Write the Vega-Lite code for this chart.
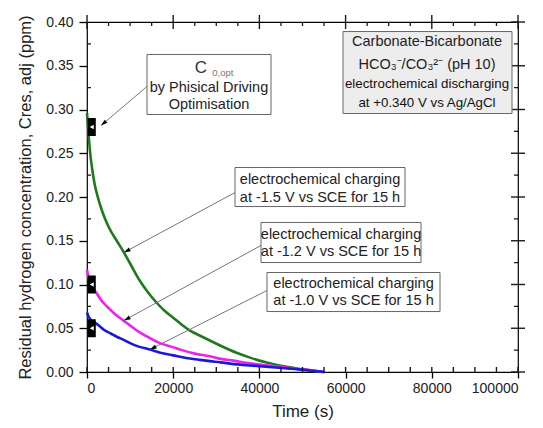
{
  "$schema": "https://vega.github.io/schema/vega-lite/v6.json",
  "width": 431,
  "height": 350,
  "autosize": "none",
  "padding": {"left": 87, "top": 22, "right": 25, "bottom": 56},
  "config": {
    "view": {"stroke": "#000", "strokeWidth": 1.2},
    "font": "Liberation Sans",
    "axis": {"domain": false, "grid": false, "tickColor": "#000", "tickWidth": 1.3, "labelFont": "Liberation Sans", "titleFont": "Liberation Sans", "labelColor": "#222", "titleColor": "#222", "titleFontWeight": "normal"}
  },
  "datasets": {
    "curves": [
      {"s":"-1.5 V","t":0,"c":0.296},{"s":"-1.5 V","t":300,"c":0.276},{"s":"-1.5 V","t":700,"c":0.252},{"s":"-1.5 V","t":1200,"c":0.232},{"s":"-1.5 V","t":1800,"c":0.214},{"s":"-1.5 V","t":2500,"c":0.2},{"s":"-1.5 V","t":3500,"c":0.184},{"s":"-1.5 V","t":5000,"c":0.166},{"s":"-1.5 V","t":6900,"c":0.15},{"s":"-1.5 V","t":8400,"c":0.138},{"s":"-1.5 V","t":10000,"c":0.124},{"s":"-1.5 V","t":12300,"c":0.104},{"s":"-1.5 V","t":14000,"c":0.092},{"s":"-1.5 V","t":16000,"c":0.08},{"s":"-1.5 V","t":18000,"c":0.07},{"s":"-1.5 V","t":20000,"c":0.062},{"s":"-1.5 V","t":22000,"c":0.054},{"s":"-1.5 V","t":24000,"c":0.047},{"s":"-1.5 V","t":26000,"c":0.042},{"s":"-1.5 V","t":28500,"c":0.036},{"s":"-1.5 V","t":31000,"c":0.03},{"s":"-1.5 V","t":34700,"c":0.022},{"s":"-1.5 V","t":37500,"c":0.017},{"s":"-1.5 V","t":40000,"c":0.013},{"s":"-1.5 V","t":42500,"c":0.01},{"s":"-1.5 V","t":45000,"c":0.007},{"s":"-1.5 V","t":47500,"c":0.005},{"s":"-1.5 V","t":50000,"c":0.003},{"s":"-1.5 V","t":52500,"c":0.0013},{"s":"-1.5 V","t":55000,"c":0},
      {"s":"-1.2 V","t":0,"c":0.117},{"s":"-1.2 V","t":300,"c":0.109},{"s":"-1.2 V","t":800,"c":0.101},{"s":"-1.2 V","t":1500,"c":0.095},{"s":"-1.2 V","t":2250,"c":0.09},{"s":"-1.2 V","t":3000,"c":0.084},{"s":"-1.2 V","t":4000,"c":0.078},{"s":"-1.2 V","t":5000,"c":0.073},{"s":"-1.2 V","t":6500,"c":0.066},{"s":"-1.2 V","t":8400,"c":0.059},{"s":"-1.2 V","t":10000,"c":0.053},{"s":"-1.2 V","t":12000,"c":0.046},{"s":"-1.2 V","t":14500,"c":0.039},{"s":"-1.2 V","t":16900,"c":0.033},{"s":"-1.2 V","t":19500,"c":0.029},{"s":"-1.2 V","t":22000,"c":0.025},{"s":"-1.2 V","t":25000,"c":0.021},{"s":"-1.2 V","t":28500,"c":0.018},{"s":"-1.2 V","t":31000,"c":0.015},{"s":"-1.2 V","t":34000,"c":0.013},{"s":"-1.2 V","t":37000,"c":0.0105},{"s":"-1.2 V","t":40000,"c":0.0086},{"s":"-1.2 V","t":43000,"c":0.0068},{"s":"-1.2 V","t":46000,"c":0.005},{"s":"-1.2 V","t":49000,"c":0.0035},{"s":"-1.2 V","t":52000,"c":0.002},{"s":"-1.2 V","t":55000,"c":0},
      {"s":"-1.0 V","t":0,"c":0.068},{"s":"-1.0 V","t":300,"c":0.064},{"s":"-1.0 V","t":800,"c":0.06},{"s":"-1.0 V","t":1500,"c":0.057},{"s":"-1.0 V","t":2250,"c":0.055},{"s":"-1.0 V","t":3000,"c":0.052},{"s":"-1.0 V","t":4000,"c":0.048},{"s":"-1.0 V","t":5500,"c":0.044},{"s":"-1.0 V","t":7000,"c":0.04},{"s":"-1.0 V","t":8400,"c":0.037},{"s":"-1.0 V","t":10000,"c":0.033},{"s":"-1.0 V","t":12000,"c":0.029},{"s":"-1.0 V","t":14600,"c":0.0257},{"s":"-1.0 V","t":17000,"c":0.022},{"s":"-1.0 V","t":20000,"c":0.019},{"s":"-1.0 V","t":23000,"c":0.016},{"s":"-1.0 V","t":26000,"c":0.014},{"s":"-1.0 V","t":28500,"c":0.0124},{"s":"-1.0 V","t":31000,"c":0.011},{"s":"-1.0 V","t":34000,"c":0.009},{"s":"-1.0 V","t":37000,"c":0.0078},{"s":"-1.0 V","t":40000,"c":0.0067},{"s":"-1.0 V","t":43000,"c":0.0055},{"s":"-1.0 V","t":46000,"c":0.0042},{"s":"-1.0 V","t":49000,"c":0.003},{"s":"-1.0 V","t":52000,"c":0.0015},{"s":"-1.0 V","t":55000,"c":0}
    ],
    "markers": [{"t":1100,"c":0.28},{"t":1100,"c":0.1},{"t":1100,"c":0.05}],
    "arrows": [
      {"t1":13921,"c1":0.3263,"t2":3248,"c2":0.2817},
      {"t1":34339,"c1":0.2051,"t2":8585,"c2":0.1366},
      {"t1":40371,"c1":0.1446,"t2":8585,"c2":0.0589},
      {"t1":41763,"c1":0.0931,"t2":14617,"c2":0.0257}
    ],
    "boxes": [
      {"t1":13921,"t2":42691,"c1":0.3629,"c2":0.2943},
      {"t1":34339,"t2":73782,"c1":0.2337,"c2":0.1891},
      {"t1":40371,"t2":77494,"c1":0.1709,"c2":0.1251},
      {"t1":41763,"t2":81903,"c1":0.1137,"c2":0.0691}
    ],
    "graybox": [{"t1":59397,"t2":98608,"c1":0.3891,"c2":0.2954}],
    "texts": [
      {"t":28306,"c":0.3251,"txt":"by Phisical Driving"},
      {"t":28306,"c":0.3046,"txt":"Optimisation"},
      {"t":78886,"c":0.3766,"txt":"Carbonate-Bicarbonate"},
      {"t":78886,"c":0.3514,"txt":"HCO₃⁻/CO₃²⁻ (pH 10)"},
      {"t":54060,"c":0.22,"txt":"electrochemical charging"},
      {"t":54060,"c":0.1994,"txt":"at -1.5 V vs SCE for 15 h"},
      {"t":58933,"c":0.1571,"txt":"electrochemical charging"},
      {"t":58933,"c":0.1366,"txt":"at -1.2 V vs SCE for 15 h"},
      {"t":61833,"c":0.1011,"txt":"electrochemical charging"},
      {"t":61833,"c":0.0806,"txt":"at -1.0 V vs SCE for 15 h"}
    ],
    "smalltexts": [
      {"t":78886,"c":0.3286,"txt":"electrochemical discharging"},
      {"t":78886,"c":0.308,"txt":"at +0.340 V vs Ag/AgCl"}
    ],
    "cmain": [{"t":26450,"c":0.3469,"txt":"C"}],
    "csub": [{"t":31500,"c":0.3412,"txt":"0,opt"}],
    "xticks": [{"v":0,"kind":"major"},{"v":5000,"kind":"minor"},{"v":10000,"kind":"minor"},{"v":15000,"kind":"minor"},{"v":20000,"kind":"major"},{"v":25000,"kind":"minor"},{"v":30000,"kind":"minor"},{"v":35000,"kind":"minor"},{"v":40000,"kind":"major"},{"v":45000,"kind":"minor"},{"v":50000,"kind":"minor"},{"v":55000,"kind":"minor"},{"v":60000,"kind":"major"},{"v":65000,"kind":"minor"},{"v":70000,"kind":"minor"},{"v":75000,"kind":"minor"},{"v":80000,"kind":"major"},{"v":85000,"kind":"minor"},{"v":90000,"kind":"minor"},{"v":95000,"kind":"minor"},{"v":100000,"kind":"major"}],
    "yticks": [{"v":0,"kind":"major"},{"v":0.025,"kind":"minor"},{"v":0.05,"kind":"major"},{"v":0.075,"kind":"minor"},{"v":0.1,"kind":"major"},{"v":0.125,"kind":"minor"},{"v":0.15,"kind":"major"},{"v":0.175,"kind":"minor"},{"v":0.2,"kind":"major"},{"v":0.225,"kind":"minor"},{"v":0.25,"kind":"major"},{"v":0.275,"kind":"minor"},{"v":0.3,"kind":"major"},{"v":0.325,"kind":"minor"},{"v":0.35,"kind":"major"},{"v":0.375,"kind":"minor"},{"v":0.4,"kind":"major"}]
  },
  "layer": [
    {
      "data": {"name": "curves"},
      "mark": {"type": "line", "strokeWidth": 2.6, "interpolate": "monotone"},
      "encoding": {
        "x": {"field": "t", "type": "quantitative", "scale": {"domain": [0, 100000], "nice": false},
          "axis": {"orient": "bottom", "values": [0, 20000, 40000, 60000, 80000, 100000], "tickSize": 6, "labelPadding": 3, "labelFontSize": 14, "title": "Time (s)", "titleFontSize": 17, "titlePadding": 8, "format": "d"}},
        "y": {"field": "c", "type": "quantitative", "scale": {"domain": [0, 0.4], "nice": false},
          "axis": {"orient": "left", "values": [0, 0.05, 0.1, 0.15, 0.2, 0.25, 0.3, 0.35, 0.4], "tickSize": 8, "labelPadding": 6, "labelFontSize": 14, "format": ".2f", "title": "Residual hydrogen concentration, Cres, adj (ppm)", "titleFontSize": 16.5, "titlePadding": 12}},
        "color": {"field": "s", "type": "nominal", "scale": {"domain": ["-1.5 V", "-1.2 V", "-1.0 V"], "range": ["#1f7a1f", "#ee22ee", "#1a1ad6"]}, "legend": null}
      }
    },
    {
      "data": {"name": "xticks"},
      "transform": [{"filter": "datum.kind == 'major'"}],
      "mark": {"type": "rule", "color": "#1a1a1a", "strokeWidth": 1.4, "yOffset": -7, "y2Offset": 7},
      "encoding": {"x": {"field": "v", "type": "quantitative"}, "y": {"datum": 0.4, "type": "quantitative"}, "y2": {"datum": 0.4}}
    },
    {
      "data": {"name": "xticks"},
      "transform": [{"filter": "datum.kind == 'minor'"}],
      "mark": {"type": "rule", "color": "#1a1a1a", "strokeWidth": 1.3, "yOffset": 0, "y2Offset": 4},
      "encoding": {"x": {"field": "v", "type": "quantitative"}, "y": {"datum": 0.4, "type": "quantitative"}, "y2": {"datum": 0.4}}
    },
    {
      "data": {"name": "xticks"},
      "mark": {"type": "rule", "color": "#1a1a1a", "strokeWidth": 1.4, "yOffset": -5, "y2Offset": 0},
      "encoding": {"x": {"field": "v", "type": "quantitative"}, "y": {"datum": 0, "type": "quantitative"}, "y2": {"datum": 0}}
    },
    {
      "data": {"name": "yticks"},
      "transform": [{"filter": "datum.kind == 'major'"}],
      "mark": {"type": "rule", "color": "#1a1a1a", "strokeWidth": 1.4, "xOffset": -7, "x2Offset": 7},
      "encoding": {"y": {"field": "v", "type": "quantitative"}, "x": {"datum": 100000, "type": "quantitative"}, "x2": {"datum": 100000}}
    },
    {
      "data": {"name": "yticks"},
      "transform": [{"filter": "datum.kind == 'minor'"}],
      "mark": {"type": "rule", "color": "#1a1a1a", "strokeWidth": 1.3, "xOffset": -4, "x2Offset": 0},
      "encoding": {"y": {"field": "v", "type": "quantitative"}, "x": {"datum": 100000, "type": "quantitative"}, "x2": {"datum": 100000}}
    },
    {
      "data": {"name": "yticks"},
      "transform": [{"filter": "datum.kind == 'minor'"}],
      "mark": {"type": "rule", "color": "#1a1a1a", "strokeWidth": 1.3, "xOffset": 0, "x2Offset": 4},
      "encoding": {"y": {"field": "v", "type": "quantitative"}, "x": {"datum": 0, "type": "quantitative"}, "x2": {"datum": 0}}
    },
    {
      "data": {"name": "markers"},
      "mark": {"type": "point", "filled": true, "color": "#000", "opacity": 1, "size": 324, "shape": "M-0.45,-1L0.45,-1L0.45,1L-0.45,1Z"},
      "encoding": {
        "x": {"field": "t", "type": "quantitative"},
        "y": {"field": "c", "type": "quantitative"}
      }
    },
    {
      "data": {"name": "markers"},
      "mark": {"type": "point", "filled": true, "color": "#fff", "opacity": 1, "size": 22, "shape": "triangle-left"},
      "encoding": {
        "x": {"field": "t", "type": "quantitative"},
        "y": {"field": "c", "type": "quantitative"}
      }
    },
    {
      "data": {"name": "arrows"},
      "mark": {"type": "rule", "color": "#777", "strokeWidth": 1},
      "encoding": {
        "x": {"field": "t1", "type": "quantitative"},
        "x2": {"field": "t2"},
        "y": {"field": "c1", "type": "quantitative"},
        "y2": {"field": "c2"}
      }
    },
    {
      "data": {"name": "arrows"},
      "transform": [{"calculate": "atan2(-(datum.c2 - datum.c1) * 875, (datum.t2 - datum.t1) * 0.00431) * 180 / PI", "as": "ang"}],
      "mark": {"type": "point", "filled": true, "color": "#000", "opacity": 1, "size": 36, "shape": "M0,0L-2.2,-0.7L-2.2,0.7Z"},
      "encoding": {
        "x": {"field": "t2", "type": "quantitative"},
        "y": {"field": "c2", "type": "quantitative"},
        "angle": {"field": "ang", "type": "quantitative", "scale": null}
      }
    },
    {
      "data": {"name": "boxes"},
      "mark": {"type": "rect", "fill": "#fff", "stroke": "#666", "strokeWidth": 1},
      "encoding": {
        "x": {"field": "t1", "type": "quantitative"},
        "x2": {"field": "t2"},
        "y": {"field": "c1", "type": "quantitative"},
        "y2": {"field": "c2"}
      }
    },
    {
      "data": {"name": "graybox"},
      "mark": {"type": "rect", "fill": "#ededed", "stroke": "#666", "strokeWidth": 1},
      "encoding": {
        "x": {"field": "t1", "type": "quantitative"},
        "x2": {"field": "t2"},
        "y": {"field": "c1", "type": "quantitative"},
        "y2": {"field": "c2"}
      }
    },
    {
      "data": {"name": "texts"},
      "mark": {"type": "text", "font": "Liberation Sans", "fontSize": 14.5, "color": "#222", "align": "center", "baseline": "middle"},
      "encoding": {
        "x": {"field": "t", "type": "quantitative"},
        "y": {"field": "c", "type": "quantitative"},
        "text": {"field": "txt"}
      }
    },
    {
      "data": {"name": "smalltexts"},
      "mark": {"type": "text", "font": "Liberation Sans", "fontSize": 13.3, "color": "#111", "align": "center", "baseline": "middle"},
      "encoding": {
        "x": {"field": "t", "type": "quantitative"},
        "y": {"field": "c", "type": "quantitative"},
        "text": {"field": "txt"}
      }
    },
    {
      "data": {"name": "cmain"},
      "mark": {"type": "text", "font": "Liberation Sans", "fontSize": 17, "color": "#333", "align": "center", "baseline": "middle"},
      "encoding": {
        "x": {"field": "t", "type": "quantitative"},
        "y": {"field": "c", "type": "quantitative"},
        "text": {"field": "txt"}
      }
    },
    {
      "data": {"name": "csub"},
      "mark": {"type": "text", "font": "Liberation Sans", "fontSize": 9.5, "color": "#777", "align": "center", "baseline": "middle"},
      "encoding": {
        "x": {"field": "t", "type": "quantitative"},
        "y": {"field": "c", "type": "quantitative"},
        "text": {"field": "txt"}
      }
    }
  ]
}
